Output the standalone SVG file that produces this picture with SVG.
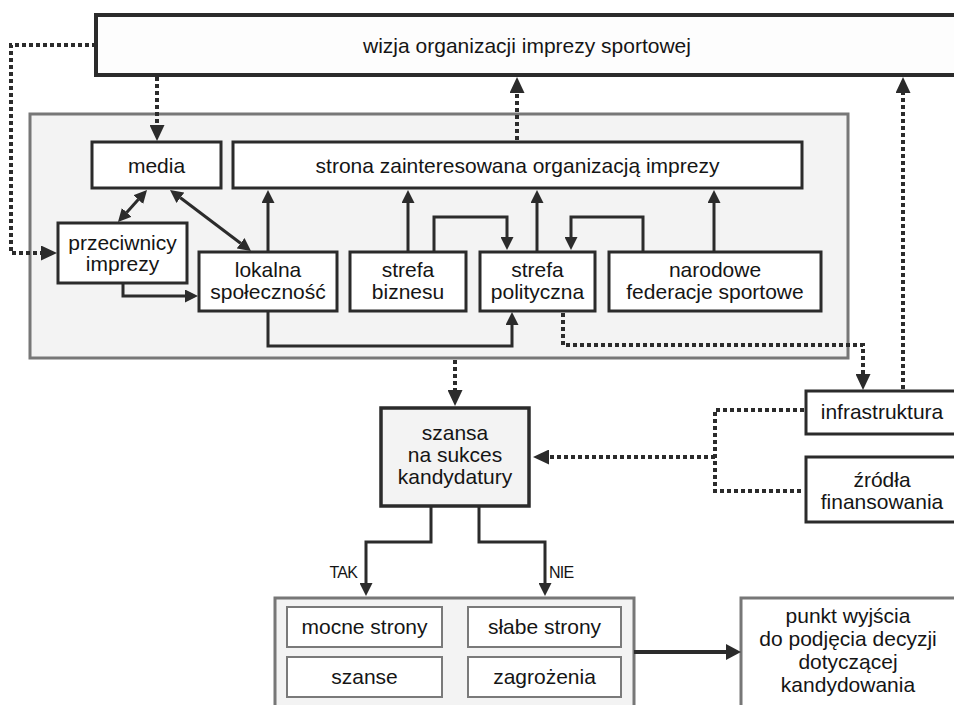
<svg xmlns="http://www.w3.org/2000/svg" width="954" height="705" viewBox="0 0 954 705">
  <style>
    text { font-family: "Liberation Sans", Arial, sans-serif; font-size: 21px; fill: #151515; text-anchor: middle; }
    .lbl { font-size: 16px; letter-spacing: -0.8px; }
    .box { fill: #ffffff; stroke: #2b2b2b; stroke-width: 3; }
    .heavy { fill: #fdfdfd; stroke: #2b2b2b; stroke-width: 4; }
    .panel { fill: #f3f3f3; stroke: #777777; stroke-width: 3; }
    .soft { fill: #ffffff; stroke: #7a7a7a; stroke-width: 2; }
    .grey { fill: #ffffff; stroke: #777777; stroke-width: 3; }
    .solid { fill: none; stroke: #2b2b2b; stroke-width: 3; marker-end: url(#head); }
    .dot { fill: none; stroke: #2b2b2b; stroke-width: 4; stroke-dasharray: 4 3; }
    .dotarrow { marker-end: url(#dhead); }
  </style>
  <defs>
    <marker id="head" markerUnits="userSpaceOnUse" markerWidth="13" markerHeight="13" refX="0" refY="6.5" orient="auto-start-reverse" viewBox="0 0 13 13">
      <path d="M0,0 L13,6.5 L0,13 z" fill="#2b2b2b"/>
    </marker>
    <marker id="dhead" markerUnits="userSpaceOnUse" markerWidth="16" markerHeight="15" refX="0" refY="7.5" orient="auto" viewBox="0 0 16 15">
      <path d="M0,0 L16,7.5 L0,15 z" fill="#2b2b2b"/>
    </marker>
    <marker id="bighead" markerUnits="userSpaceOnUse" markerWidth="15" markerHeight="16" refX="0" refY="8" orient="auto" viewBox="0 0 15 16">
      <path d="M0,0 L15,8 L0,16 z" fill="#2b2b2b"/>
    </marker>
  </defs>

  <!-- panels -->
  <g id="stakeholder-panel">
    <rect class="panel" x="30" y="114" width="818" height="244"/>
  </g>
  <g id="swot-panel">
    <rect class="panel" x="275" y="598" width="359" height="115"/>
  </g>

  <!-- nodes -->
  <g id="vision">
    <rect class="heavy" x="96" y="15" width="870" height="60"/>
    <text x="527" y="53">wizja organizacji imprezy sportowej</text>
  </g>
  <g id="media">
    <rect class="box" x="92" y="142" width="129" height="46"/>
    <text x="156.5" y="172.5">media</text>
  </g>
  <g id="stakeholder">
    <rect class="box" x="233" y="142" width="569" height="46"/>
    <text x="517.5" y="172.5">strona zainteresowana organizacją imprezy</text>
  </g>
  <g id="opponents">
    <rect class="box" x="58" y="223" width="129" height="60"/>
    <text x="122.5" y="250">przeciwnicy</text>
    <text x="122.5" y="271">imprezy</text>
  </g>
  <g id="community">
    <rect class="box" x="199" y="252" width="138" height="59"/>
    <text x="268" y="277">lokalna</text>
    <text x="268" y="298.5">społeczność</text>
  </g>
  <g id="business">
    <rect class="box" x="350" y="252" width="116" height="59"/>
    <text x="408" y="277">strefa</text>
    <text x="408" y="298.5">biznesu</text>
  </g>
  <g id="politics">
    <rect class="box" x="480" y="252" width="115" height="59"/>
    <text x="537.5" y="277">strefa</text>
    <text x="537.5" y="298.5">polityczna</text>
  </g>
  <g id="federations">
    <rect class="box" x="609" y="252" width="212" height="59"/>
    <text x="715" y="277">narodowe</text>
    <text x="715" y="298.5">federacje sportowe</text>
  </g>
  <g id="infrastructure">
    <rect class="box" x="806" y="391" width="160" height="43"/>
    <text x="882" y="419">infrastruktura</text>
  </g>
  <g id="funding">
    <rect class="box" x="806" y="457" width="160" height="65"/>
    <text x="882" y="487">źródła</text>
    <text x="882" y="508.5">finansowania</text>
  </g>
  <g id="chance">
    <rect class="box" x="381" y="408" width="148" height="98" style="fill:#f3f3f3;stroke-width:3.5"/>
    <text x="455" y="440">szansa</text>
    <text x="455" y="462">na sukces</text>
    <text x="455" y="484">kandydatury</text>
  </g>
  <g id="strengths">
    <rect class="soft" x="287" y="607" width="155" height="40"/>
    <text x="364.5" y="634">mocne strony</text>
  </g>
  <g id="weaknesses">
    <rect class="soft" x="468" y="607" width="153" height="40"/>
    <text x="544.5" y="634">słabe strony</text>
  </g>
  <g id="opportunities">
    <rect class="soft" x="287" y="657" width="155" height="40"/>
    <text x="364.5" y="684">szanse</text>
  </g>
  <g id="threats">
    <rect class="soft" x="468" y="657" width="153" height="40"/>
    <text x="544.5" y="684">zagrożenia</text>
  </g>
  <g id="starting-point">
    <rect class="grey" x="741" y="598" width="225" height="115"/>
    <text x="848" y="623">punkt wyjścia</text>
    <text x="848" y="646">do podjęcia decyzji</text>
    <text x="848" y="669">dotyczącej</text>
    <text x="848" y="692">kandydowania</text>
  </g>

  <!-- connectors -->
  <g id="connectors">
    <!-- solid links inside the stakeholder panel -->
    <path class="solid" d="M138.3,199.6 L126.7,212.4" marker-start="url(#head)"/>
    <path class="solid" d="M180.4,197.8 L240.6,243.2" marker-start="url(#head)"/>
    <path class="solid" d="M268,251 V203"/>
    <path class="solid" d="M408,251 V203"/>
    <path class="solid" d="M537,251 V203"/>
    <path class="solid" d="M714,251 V203"/>
    <path class="solid" d="M434,251 V217 H507 V237"/>
    <path class="solid" d="M643,251 V217 H571 V237"/>
    <path class="solid" d="M123,283 V296 H185"/>
    <path class="solid" d="M268,311 V346 H512 V325"/>

    <!-- decision branches -->
    <path class="solid" d="M431,506 V542 H366 V583"/>
    <path class="solid" d="M479,506 V542 H545 V583"/>
    <text class="lbl" x="357" y="578" style="text-anchor:end">TAK</text>
    <text class="lbl" x="549" y="578" style="text-anchor:start">NIE</text>

    <!-- SWOT to starting point -->
    <path d="M634,652 H726" fill="none" stroke="#2b2b2b" stroke-width="4" marker-end="url(#bighead)"/>

    <!-- dotted influences -->
    <path class="dot dotarrow" d="M96,45 H11 V253 H41"/>
    <path class="dot dotarrow" d="M157,77 V125"/>
    <path class="dot dotarrow" d="M517,140 V93"/>
    <path class="dot dotarrow" d="M903,389 V93"/>
    <path class="dot dotarrow" d="M563,313 V345 H863 V374"/>
    <path class="dot dotarrow" d="M455,360 V390"/>
    <path class="dot" d="M804,410 H715 V491 H804"/>
    <path class="dot dotarrow" d="M715,457 H549"/>
  </g>
</svg>
